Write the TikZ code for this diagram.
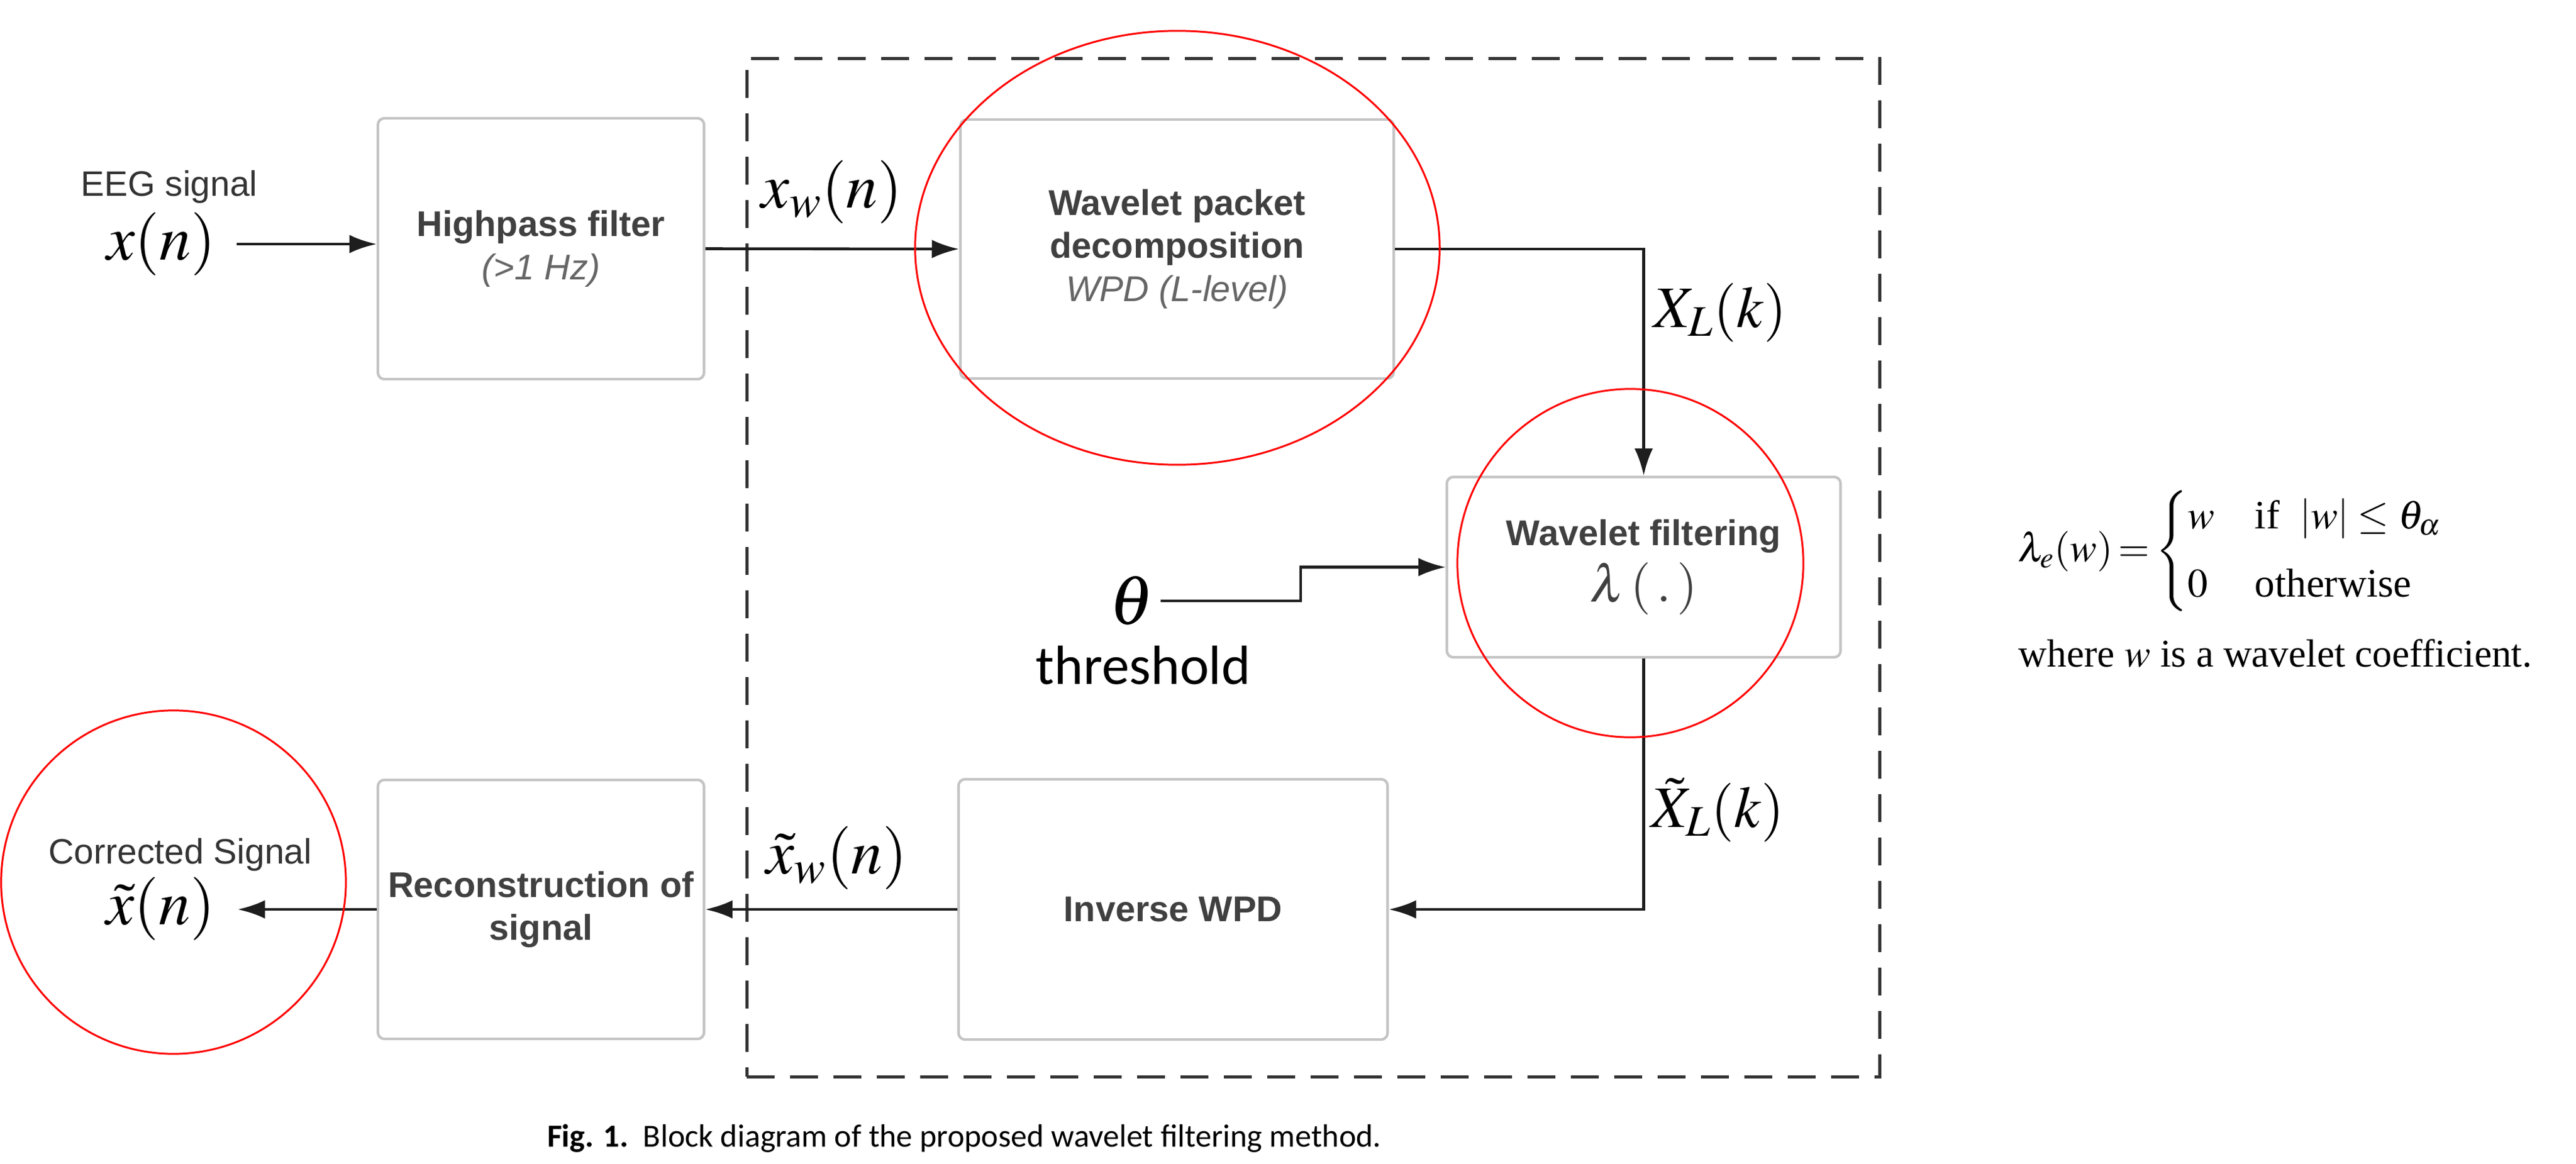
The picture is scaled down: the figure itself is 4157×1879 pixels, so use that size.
\documentclass[tikz,border=0pt]{standalone}
\usepackage{amsmath}
\usepackage{mathptmx}
\usepackage{fontspec}
\setmainfont{Liberation Serif}
\newfontfamily\arialfont{Liberation Sans}
\newfontfamily\calfont{Carlito}
\usetikzlibrary{arrows.meta,shapes.geometric,calc}
\definecolor{boxline}{HTML}{C4C4C4}
\definecolor{txtdark}{HTML}{404040}
\definecolor{txtgray}{HTML}{666666}
\definecolor{linedark}{HTML}{1E1E1E}
\definecolor{framedark}{HTML}{333333}
\begin{document}
\begin{tikzpicture}[x=0.01cm,y=-0.01cm,
  blockbox/.style={draw=boxline, line width=1.2pt, rounded corners=3pt, fill=white, align=center, text=txtdark, font=\arialfont\fontsize{16.4pt}{19.7pt}\selectfont, inner sep=0pt},
  arr/.style={draw=linedark, line width=1.3pt, -{Latex[length=12.5pt,width=8.5pt]}},
  mlabel/.style={inner sep=0pt, font=\fontsize{29pt}{34pt}\selectfont},
  slabel/.style={inner sep=0pt, text=framedark, font=\arialfont\fontsize{16.2pt}{19.7pt}\selectfont},
  redring/.style={ellipse, draw=red, line width=0.85pt, inner sep=0pt},
]
\useasboundingbox (0,0) rectangle (4157,1879);

% dashed frame
\node[draw=framedark, dash pattern=on 12.8pt off 7.1pt, line width=1.6pt, minimum width=18.27cm, minimum height=16.43cm, inner sep=0pt] (frame) at (2119.5,916.5) {};

% blocks
\node[blockbox, minimum width=5.26cm, minimum height=4.21cm] (hp) at (873,401.5) {\textbf{Highpass filter}\\{\color{txtgray}\itshape(>1 Hz)}};
\node[blockbox, minimum width=6.99cm, minimum height=4.18cm] (wpd) at (1899.5,402) {\textbf{Wavelet packet}\\\textbf{decomposition}\\{\color{txtgray}\itshape WPD (L-level)}};
\node[blockbox, minimum width=6.35cm, minimum height=2.91cm] (wf) at (2652.5,915.5) {\textbf{Wavelet filtering}\\[3.5pt]{\fontsize{24pt}{28pt}\selectfont$\lambda\,(\,.\,)$}};
\node[blockbox, minimum width=6.92cm, minimum height=4.2cm] (iwpd) at (1893,1468) {\textbf{Inverse WPD}};
\node[blockbox, minimum width=5.26cm, minimum height=4.18cm] (rec) at (873,1468) {\textbf{Reconstruction of}\\\textbf{signal}};

% labels
\node[slabel] (eeg) at (273,302) {EEG signal};
\node[mlabel] (xn) at (260,394) {$x(n)$};
\node[mlabel, anchor=west] (xw) at (1228,310) {$x_w(n)$};
\node[mlabel, anchor=west, font=\fontsize{27pt}{32pt}\selectfont] (XL) at (2668,505) {$X_L(k)$};
\node[mlabel, font=\fontsize{32pt}{36pt}\selectfont] (theta) at (1826,970) {$\theta$};
\node[inner sep=0pt, font=\calfont\fontsize{25.3pt}{30pt}\selectfont] (thr) at (1845,1074) {threshold};
\node[mlabel, anchor=west, font=\fontsize{27pt}{32pt}\selectfont] (XLt) at (2664,1308) {$\tilde{X}_L(k)$};
\node[mlabel, anchor=west] (xwt) at (1236,1385) {$\tilde{x}_w(n)$};
\node[slabel] (cs) at (291,1380) {Corrected Signal};
\node[mlabel] (xt) at (259,1467) {$\tilde{x}(n)$};

% connectors
\coordinate (tbend) at (2099,969);
\draw[arr, shorten <=0.33cm] (xn.east) -- (xn.east -| hp.west);
\draw[arr] (hp.east) -- (wpd.west);
\draw[arr] (wpd.east) -| (wf.north);
\draw[arr, shorten <=0.1cm] (theta.east) -- (theta.east -| tbend) |- (wf.west);
\draw[arr] (wf.south) |- (iwpd.east);
\draw[arr] (iwpd.west) -- (rec.east);
\draw[arr, shorten >=0.36cm] (rec.west) -- (rec.west -| xt.east);

% red annotation rings
\node[redring, minimum width=8.46cm, minimum height=7.0cm] (ring1) at (1900,400) {};
\node[redring, minimum width=5.58cm, minimum height=5.62cm] (ring2) at (2631,909) {};
\node[redring, minimum width=5.56cm, minimum height=5.54cm] (ring3) at (280,1424) {};

% formula
\node[anchor=west, inner sep=0pt, font=\fontsize{18.5pt}{22pt}\selectfont] (formula) at (3256,890) {$\lambda_e(w)\mkern-1.5mu=\mkern-1.5mu\begin{cases} w & \text{if}\ \ |w|\le\theta_\alpha\\[5pt] 0 & \text{otherwise}\end{cases}$};
\node[anchor=west, inner sep=0pt, font=\fontsize{18pt}{22pt}\selectfont] (where) at (3257,1055) {where $w$ is a wavelet coefficient.};

% caption
\node[inner sep=0pt, font=\calfont\fontsize{14.8pt}{17pt}\selectfont] (caption) at (1556,1838) {\textbf{Fig. 1.}\ \ Block diagram of the proposed wavelet filtering method.};
\end{tikzpicture}
\end{document}
